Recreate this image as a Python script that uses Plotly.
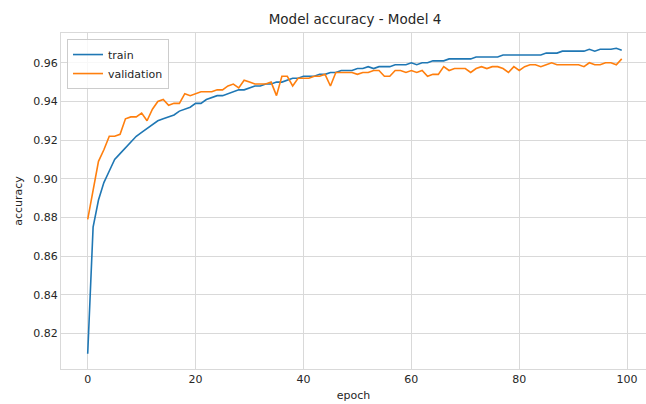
import plotly.graph_objects as go

epochs = list(range(100))
train_acc = [
    0.8095, 0.875, 0.889, 0.898, 0.904, 0.910, 0.913, 0.916, 0.919, 0.922,
    0.924, 0.926, 0.928, 0.930, 0.931, 0.932, 0.933, 0.935, 0.936, 0.937,
    0.939, 0.939, 0.941, 0.942, 0.943, 0.943, 0.944, 0.945, 0.946, 0.946,
    0.947, 0.948, 0.948, 0.949, 0.949, 0.950, 0.950, 0.951, 0.952, 0.952,
    0.953, 0.953, 0.953, 0.954, 0.954, 0.955, 0.955, 0.956, 0.956, 0.956,
    0.957, 0.957, 0.958, 0.957, 0.958, 0.958, 0.958, 0.959, 0.959, 0.959,
    0.960, 0.959, 0.960, 0.960, 0.961, 0.961, 0.961, 0.962, 0.962, 0.962,
    0.962, 0.962, 0.963, 0.963, 0.963, 0.963, 0.963, 0.964, 0.964, 0.964,
    0.964, 0.964, 0.964, 0.964, 0.964, 0.965, 0.965, 0.965, 0.966, 0.966,
    0.966, 0.966, 0.966, 0.967, 0.966, 0.967, 0.967, 0.967, 0.9675, 0.9665,
]
val_acc = [
    0.879, 0.895, 0.909, 0.915, 0.922, 0.922, 0.923, 0.931, 0.932, 0.932,
    0.934, 0.930, 0.936, 0.940, 0.941, 0.938, 0.939, 0.939, 0.944, 0.943,
    0.944, 0.945, 0.945, 0.945, 0.946, 0.946, 0.948, 0.949, 0.947, 0.951,
    0.950, 0.949, 0.949, 0.949, 0.950, 0.943, 0.953, 0.953, 0.948, 0.952,
    0.952, 0.952, 0.953, 0.953, 0.954, 0.948, 0.955, 0.955, 0.955, 0.955,
    0.954, 0.955, 0.955, 0.956, 0.956, 0.953, 0.953, 0.956, 0.956, 0.955,
    0.956, 0.955, 0.956, 0.953, 0.954, 0.954, 0.958, 0.956, 0.957, 0.957,
    0.957, 0.955, 0.957, 0.958, 0.957, 0.958, 0.958, 0.957, 0.955, 0.958,
    0.956, 0.958, 0.959, 0.959, 0.958, 0.959, 0.960, 0.959, 0.959, 0.959,
    0.959, 0.959, 0.958, 0.960, 0.959, 0.959, 0.960, 0.960, 0.959, 0.962,
]
x_ticks = [0, 20, 40, 60, 80, 100]
y_ticks = [0.82, 0.84, 0.86, 0.88, 0.90, 0.92, 0.94, 0.96]

grid = "#d9d9d9"
txt = "#262626"
font = "DejaVu Sans"

fig = go.Figure()
fig.add_trace(go.Scatter(x=epochs, y=train_acc, mode="lines", name="train",
                         line=dict(color="#1f77b4", width=1.6)))
fig.add_trace(go.Scatter(x=epochs, y=val_acc, mode="lines", name="validation",
                         line=dict(color="#ff7f0e", width=1.6)))

fig.update_layout(
    width=646, height=404,
    margin=dict(l=61, r=0, t=33, b=35, autoexpand=False),
    paper_bgcolor="white", plot_bgcolor="white",
    font=dict(family=font, size=11, color=txt),
    title=dict(text="Model accuracy - Model 4", x=355 / 646, xanchor="center",
               y=1 - 19 / 404, yanchor="middle", font=dict(size=13.5, color=txt)),
    showlegend=True,
    legend=dict(x=6 / 585, y=0.982, xanchor="left", yanchor="top",
                bgcolor="rgba(255,255,255,0.8)", bordercolor="#cccccc", borderwidth=1,
                font=dict(size=11, color=txt), itemwidth=30,
                tracegroupgap=0),
)
fig.update_xaxes(range=[-4.95, 103.5], tickvals=x_ticks, ticktext=[str(t) for t in x_ticks],
                 showgrid=True, gridcolor=grid, gridwidth=1, zeroline=False,
                 showline=True, linecolor=grid, linewidth=1, mirror=True,
                 ticks="", ticklen=0, automargin=False,
                 title=dict(text="epoch", font=dict(size=11, color=txt), standoff=6))
fig.update_yaxes(range=[0.8016, 0.9754], tickvals=y_ticks, ticktext=[f"{t:.2f}" for t in y_ticks],
                 showgrid=True, gridcolor=grid, gridwidth=1, zeroline=False,
                 showline=True, linecolor=grid, linewidth=1, mirror=True,
                 ticks="", ticklen=0, automargin=False,
                 title=dict(text="accuracy", font=dict(size=11, color=txt), standoff=8))

fig.write_html("out.html",
               config={"displayModeBar": False},
               post_script="document.body.style.margin='0';document.body.style.overflow='hidden';")
